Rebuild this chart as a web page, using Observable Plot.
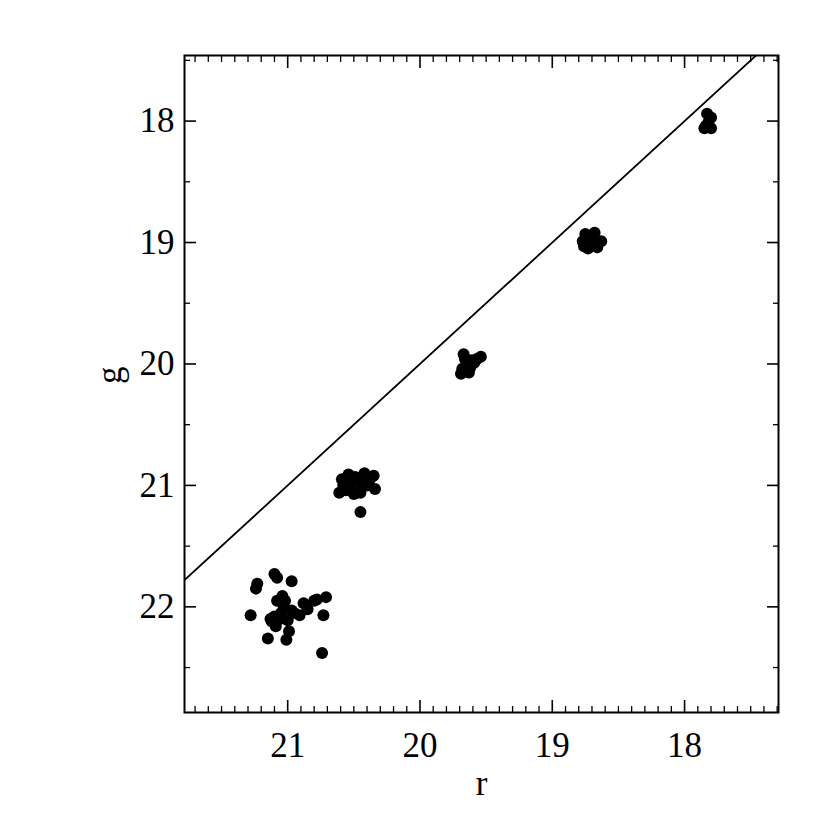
<!DOCTYPE html>
<html>
<head>
<meta charset="utf-8">
<script src="https://cdn.jsdelivr.net/npm/d3@7"></script>
<script src="https://cdn.jsdelivr.net/npm/@observablehq/plot@0.6"></script>
<style>
  html, body { margin: 0; padding: 0; background: #fff; }
</style>
</head>
<body>
<div id="chart"></div>
<script>
// Cluster near g = 22
const r22 = [21.10, 21.08, 21.23, 21.24, 20.97, 21.04, 21.08, 21.02, 21.28, 21.12, 21.05, 21.09, 21.00, 20.97, 20.91, 20.88, 20.85, 20.80, 20.78, 20.71, 20.73, 20.99, 21.15, 21.01, 20.74, 21.13, 21.10, 21.06, 20.95, 21.03];
const g22 = [21.73, 21.76, 21.81, 21.85, 21.79, 21.91, 21.95, 21.95, 22.07, 22.12, 22.05, 22.16, 22.11, 22.03, 22.07, 21.97, 22.02, 21.95, 21.94, 21.92, 22.07, 22.20, 22.26, 22.27, 22.38, 22.10, 22.08, 22.10, 22.05, 22.00];
// Cluster near g = 21
const r21 = [20.61, 20.59, 20.54, 20.42, 20.35, 20.34, 20.40, 20.47, 20.52, 20.58, 20.50, 20.45, 20.55, 20.44, 20.45, 20.49, 20.56, 20.38];
const g21 = [21.06, 20.95, 20.91, 20.90, 20.92, 21.03, 21.00, 20.96, 21.03, 21.00, 21.07, 21.06, 20.98, 20.99, 21.22, 20.93, 21.04, 20.95];
// Cluster near g = 20
const r20 = [19.67, 19.54, 19.69, 19.63, 19.64, 19.59, 19.66, 19.62, 19.68, 19.61, 19.65, 19.57];
const g20 = [19.92, 19.94, 20.08, 20.07, 20.00, 19.99, 19.96, 20.03, 20.04, 19.97, 20.06, 19.96];
// Cluster near g = 19
const r19 = [18.77, 18.75, 18.68, 18.63, 18.66, 18.73, 18.71, 18.76, 18.70, 18.68, 18.73];
const g19 = [18.99, 18.93, 18.92, 18.99, 19.04, 19.05, 19.00, 19.03, 18.96, 19.01, 18.96];
// Cluster near g = 18
const r18 = [17.83, 17.80, 17.84, 17.80, 17.82, 17.85, 17.82];
const g18 = [17.94, 17.97, 18.04, 18.06, 18.01, 18.06, 18.04];

// One-to-one line g = r
const oneToOne = [22.5, 17.0];

// Axis ticks
const xMajor = [21, 20, 19, 18];
const xMinor = d3.range(173, 218).map(d => d / 10).filter(d => !xMajor.includes(d));
const yMajor = [18, 19, 20, 21, 22];
const yMinor = [17.5, 18.5, 19.5, 20.5, 21.5, 22.5];

const rAll = [...r22, ...r21, ...r20, ...r19, ...r18];
const gAll = [...g22, ...g21, ...g20, ...g19, ...g18];
const points = rAll.map((r, i) => ({r, g: gAll[i]}));

const font = "'Liberation Serif', 'Times New Roman', serif";

const chart = Plot.plot({
  width: 830,
  height: 830,
  marginLeft: 184,
  marginRight: 52,
  marginTop: 55,
  marginBottom: 118,
  style: {fontFamily: font, fontSize: "34px", background: "#fff", color: "#000"},
  x: {domain: [21.78, 17.29]},
  y: {domain: [22.87, 17.46]},
  marks: [
    // minor ticks (all four sides, inward)
    Plot.axisX(xMinor, {anchor: "bottom", tickSize: -6, tickFormat: () => "", label: null, strokeWidth: 1.3}),
    Plot.axisX(xMinor, {anchor: "top", tickSize: -6, tickFormat: () => "", label: null, strokeWidth: 1.3}),
    Plot.axisY(yMinor, {anchor: "left", tickSize: -6, tickFormat: () => "", label: null, strokeWidth: 1.3}),
    Plot.axisY(yMinor, {anchor: "right", tickSize: -6, tickFormat: () => "", label: null, strokeWidth: 1.3}),
    // major ticks
    Plot.axisX(xMajor, {anchor: "bottom", tickSize: -12, tickFormat: () => "", label: null, strokeWidth: 1.6}),
    Plot.axisX(xMajor, {anchor: "top", tickSize: -12, tickFormat: () => "", label: null, strokeWidth: 1.6}),
    Plot.axisY(yMajor, {anchor: "left", tickSize: -12, tickFormat: () => "", label: null, strokeWidth: 1.6}),
    Plot.axisY(yMajor, {anchor: "right", tickSize: -12, tickFormat: () => "", label: null, strokeWidth: 1.6}),
    // tick labels
    Plot.axisX(xMajor, {anchor: "bottom", tickSize: 0, tickPadding: 20, tickFormat: d => String(d), label: null, fontSize: 35}),
    Plot.axisY(yMajor, {anchor: "left", tickSize: 0, tickPadding: 10, tickFormat: d => String(d), label: null, fontSize: 35}),
    // axis titles
    Plot.text(["r"], {frameAnchor: "bottom", dy: 82, text: d => d, fontSize: 35, lineAnchor: "bottom"}),
    Plot.text(["g"], {frameAnchor: "left", dx: -75, text: d => d, fontSize: 35, rotate: -90}),
    // one-to-one line
    Plot.line(oneToOne, {x: d => d, y: d => d, stroke: "#000", strokeWidth: 1.8, clip: true}),
    // points
    Plot.dot(points, {x: "r", y: "g", r: 6, fill: "#000", stroke: "none"}),
    Plot.frame({stroke: "#000", strokeWidth: 2})
  ]
});

document.getElementById("chart").appendChild(chart);
</script>
</body>
</html>
